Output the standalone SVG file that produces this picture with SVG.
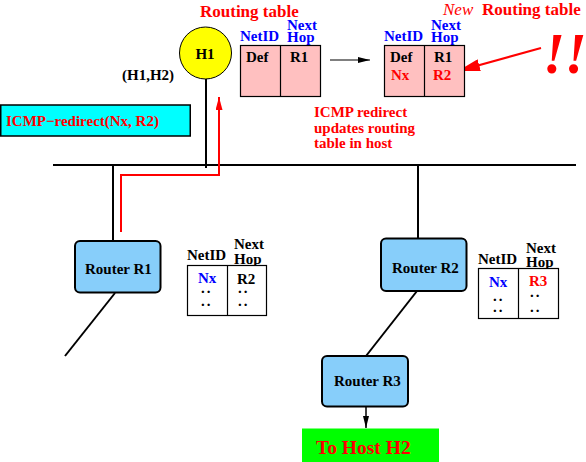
<svg xmlns="http://www.w3.org/2000/svg" width="586" height="462" viewBox="0 0 586 462">
<style>
text{font-family:"Liberation Serif","Times New Roman",serif;font-weight:bold;font-size:15px;fill:#000}
.red{fill:#ff0000}
.blue{fill:#0000ff}
.ttl{font-size:17px}
.new{font-style:italic;font-weight:normal}
.bang{font-size:56px;font-style:italic}
.big{font-size:19.5px}
.router{fill:#87cefa;stroke:#000;stroke-width:2}
.tbl{fill:#ffffff;stroke:#000;stroke-width:1.2}
.ptbl{fill:#ffc0c0;stroke:#000;stroke-width:1.2}
.wire{stroke:#000;stroke-width:2;fill:none}
.dots{letter-spacing:2px;fill:#000}
</style>
<defs>
<marker id="ab" markerUnits="userSpaceOnUse" markerWidth="12" markerHeight="6" refX="12" refY="3" orient="auto"><path d="M0,0 L12,3 L0,6 z" fill="#000"/></marker>
<marker id="ar" markerUnits="userSpaceOnUse" markerWidth="13" markerHeight="7" refX="13" refY="3.5" orient="auto"><path d="M0,0 L13,3.5 L0,7 z" fill="#ff0000"/></marker>
<marker id="arb" markerUnits="userSpaceOnUse" markerWidth="22" markerHeight="12" refX="22" refY="6" orient="auto"><path d="M0,0 L22,6 L0,12 z" fill="#ff0000"/></marker>
</defs>

<g id="connectors">
<line class="wire" x1="53" y1="165" x2="576" y2="165"/>
<line class="wire" x1="206" y1="79" x2="206" y2="168"/>
<line class="wire" x1="113" y1="165" x2="113" y2="241"/>
<line class="wire" x1="115" y1="293" x2="65" y2="356"/>
<line class="wire" x1="418" y1="165" x2="418" y2="238"/>
<line class="wire" x1="417" y1="291" x2="366" y2="356"/>
<line x1="366" y1="407" x2="366" y2="428" stroke="#000" stroke-width="1.5" marker-end="url(#ab)"/>
<line x1="330" y1="60" x2="370" y2="60" stroke="#000" stroke-width="1.2" marker-end="url(#ab)"/>
<path d="M121,232 V175 H219 V97" stroke="#ff0000" stroke-width="2" fill="none" marker-end="url(#ar)"/>
<line x1="541" y1="48" x2="458" y2="71" stroke="#ff0000" stroke-width="2" marker-end="url(#arb)"/>
</g>

<g id="H1">
<circle cx="205.5" cy="53" r="26" fill="#ffff00" stroke="#000" stroke-width="1"/>
<text x="205" y="59" text-anchor="middle">H1</text>
</g>
<text x="122" y="80">(H1,H2)</text>

<g id="icmp-msg">
<rect x="0.75" y="105" width="189.5" height="31" fill="#00ffff" stroke="#000" stroke-width="1.5"/>
<text class="red" x="6" y="126">ICMP−redirect(Nx, R2)</text>
</g>

<g id="table-old">
<text class="red ttl" x="200" y="17">Routing table</text>
<text class="blue" x="240" y="41">NetID</text>
<text class="blue" x="287" y="29.5">Next</text>
<text class="blue" x="287" y="42">Hop</text>
<rect class="ptbl" x="240.5" y="45.5" width="80" height="51"/>
<line x1="280.5" y1="45.5" x2="280.5" y2="96.5" stroke="#000" stroke-width="1.2"/>
<text x="246" y="62">Def</text>
<text x="290" y="62">R1</text>
</g>

<g id="table-new">
<text class="red ttl" y="15"><tspan class="new" x="443">New</tspan><tspan x="482">Routing table</tspan></text>
<text class="blue" x="384" y="41">NetID</text>
<text class="blue" x="431" y="29.5">Next</text>
<text class="blue" x="431" y="42">Hop</text>
<rect class="ptbl" x="384.5" y="45.5" width="80" height="51"/>
<line x1="424.5" y1="45.5" x2="424.5" y2="96.5" stroke="#000" stroke-width="1.2"/>
<text x="390" y="62">Def<tspan class="red" x="391" y="79.5">Nx</tspan></text>
<text x="434" y="62">R1<tspan class="red" x="433" y="79.5">R2</tspan></text>
</g>
<text class="red bang" x="543" y="73">!!</text>

<g id="note">
<text class="red" x="314" y="117">ICMP redirect</text>
<text class="red" x="314" y="132.5">updates routing</text>
<text class="red" x="314" y="148">table in host</text>
</g>

<g id="RouterR1">
<rect class="router" x="75" y="241" width="85.5" height="51.5" rx="5"/>
<text x="85" y="274">Router R1</text>
</g>
<g id="tableR1">
<text x="187" y="260">NetID</text>
<text x="234" y="249">Next</text>
<text x="234" y="263.5">Hop</text>
<rect class="tbl" x="187.5" y="265.5" width="79" height="50"/>
<line x1="227.5" y1="265.5" x2="227.5" y2="315.5" stroke="#000" stroke-width="1.2"/>
<text class="blue" x="198" y="283">Nx<tspan class="dots" x="201" y="293">..</tspan><tspan class="dots" x="201" y="305.5">..</tspan></text>
<text x="237" y="284">R2<tspan class="dots" x="238" y="293">..</tspan><tspan class="dots" x="238" y="305.5">..</tspan></text>
</g>

<g id="RouterR2">
<rect class="router" x="381" y="238.5" width="85.5" height="52.5" rx="5"/>
<text x="392" y="272.5">Router R2</text>
</g>
<g id="tableR2">
<text x="478" y="264">NetID</text>
<text x="526" y="252.5">Next</text>
<text x="526" y="266.5">Hop</text>
<rect class="tbl" x="478.5" y="268.5" width="80" height="50"/>
<line x1="518.5" y1="268.5" x2="518.5" y2="318.5" stroke="#000" stroke-width="1.2"/>
<text class="blue" x="489" y="286.5">Nx<tspan class="dots" x="493" y="301">..</tspan><tspan class="dots" x="493" y="312">..</tspan></text>
<text class="red" x="529" y="286">R3<tspan class="dots" x="530" y="297">..</tspan><tspan class="dots" x="530" y="312">..</tspan></text>
</g>

<g id="RouterR3">
<rect class="router" x="322" y="356" width="86" height="50.5" rx="5"/>
<text x="334" y="385.5">Router R3</text>
</g>

<g id="ToHostH2">
<rect x="302" y="428.5" width="137" height="34" fill="#00ff00"/>
<text class="red big" x="316" y="453.5">To Host H2</text>
</g>
</svg>
